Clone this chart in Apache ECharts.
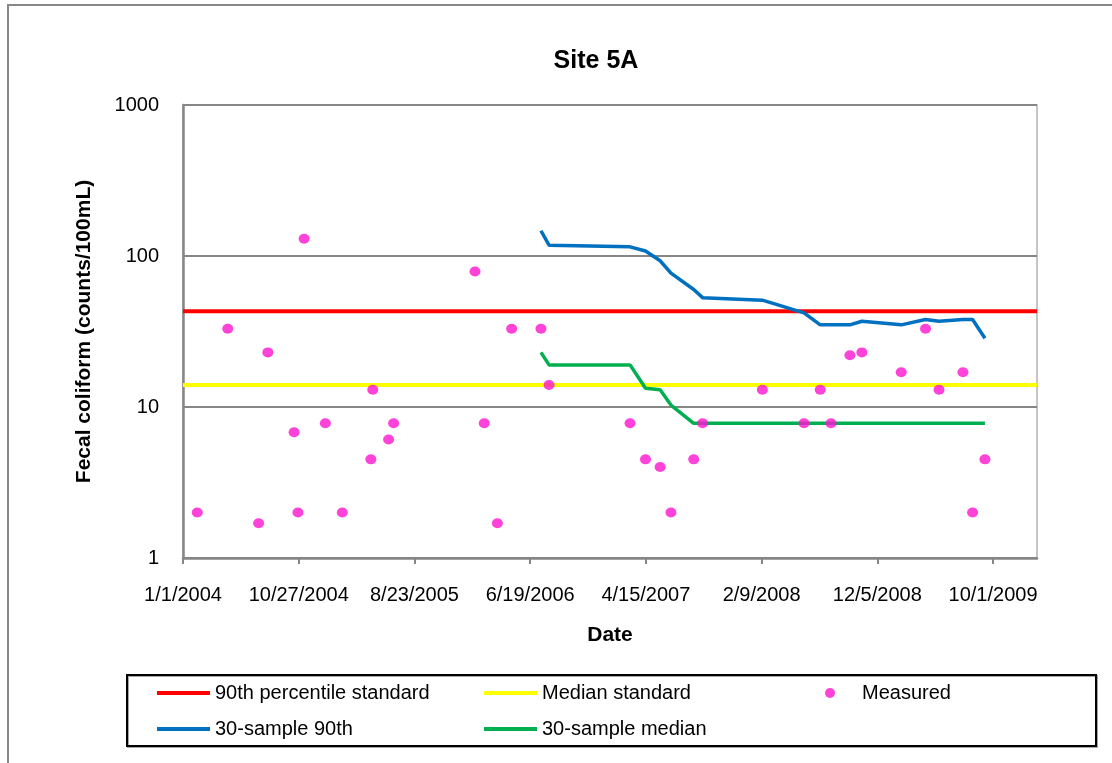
<!DOCTYPE html>
<html>
<head>
<meta charset="utf-8">
<script src="https://cdn.jsdelivr.net/npm/echarts@6/dist/echarts.min.js"></script>
<style>
  html, body { margin: 0; padding: 0; background: #fff; }
  #chart { width: 1112px; height: 763px; }
</style>
</head>
<body>
<div id="chart"></div>
<script>
// Site 5A fecal coliform chart

var FONT = '"Liberation Sans", Arial, sans-serif'

// tick labels on the date axis
var xTickLabels = ['1/1/2004', '10/27/2004', '8/23/2005', '6/19/2006', '4/15/2007', '2/9/2008', '12/5/2008', '10/1/2009']
var yTickLabels = [1, 10, 100, 1000]

// measured samples
var measuredDates = [
  '2004-02-07', '2004-04-26', '2004-07-15', '2004-08-08', '2004-10-15', '2004-10-25', '2004-11-10',
  '2005-01-04', '2005-02-17', '2005-05-02', '2005-05-07', '2005-06-17', '2005-06-30',
  '2006-01-27', '2006-02-20', '2006-03-26', '2006-05-02', '2006-07-17', '2006-08-07',
  '2007-03-05', '2007-04-14', '2007-05-22', '2007-06-19', '2007-08-17', '2007-09-09',
  '2008-02-11', '2008-05-29', '2008-07-10', '2008-08-07', '2008-09-25', '2008-10-26',
  '2009-02-05', '2009-04-09', '2009-05-14', '2009-07-15', '2009-08-09', '2009-09-10'
]
var measuredValues = [
  2, 33, 1.7, 23, 6.8, 2, 130,
  7.8, 2, 4.5, 13, 6.1, 7.8,
  79, 7.8, 1.7, 33, 33, 14,
  7.8, 4.5, 4, 2, 4.5, 7.8,
  13, 7.8, 13, 7.8, 22, 23,
  17, 33, 13, 17, 2, 4.5
]

// rolling 30-sample statistics
var rollingDates = [
  '2006-07-17', '2006-08-07', '2007-03-05', '2007-04-14', '2007-05-22', '2007-06-19',
  '2007-08-17', '2007-09-09', '2008-02-11', '2008-05-29', '2008-07-10', '2008-08-07',
  '2008-09-25', '2008-10-26', '2009-02-05', '2009-04-09', '2009-05-14', '2009-07-15',
  '2009-08-09', '2009-09-10'
]
var rolling90th = [147, 118, 115, 108, 93, 77, 60, 53, 51, 42, 35, 35, 35, 37, 35, 38, 37, 38, 38, 28.5]
var rollingMedian = [23, 19, 19, 13.3, 13, 10.3, 7.8, 7.8, 7.8, 7.8, 7.8, 7.8, 7.8, 7.8, 7.8, 7.8, 7.8, 7.8, 7.8, 7.8]

// standards (flat across the whole period)
var standardDates = ['2004-01-01', '2010-01-23']
var standard90th = [43, 43]
var standardMedian = [14, 14]

var axisStart = '2004-01-01'
var axisEnd = '2010-01-23'

var DAY = 86400000
var ORIGIN = Date.UTC(2004, 0, 1)

// 'YYYY-MM-DD' -> days since 1/1/2004
function isoToDay (s) {
  var p = s.split('-')
  return (Date.UTC(+p[0], +p[1] - 1, +p[2]) - ORIGIN) / DAY
}
// 'M/D/YYYY' -> days since 1/1/2004
function usToDay (s) {
  var p = s.split('/')
  return (Date.UTC(+p[2], +p[0] - 1, +p[1]) - ORIGIN) / DAY
}
function dayToUs (d) {
  var dt = new Date(ORIGIN + Math.round(d) * DAY)
  return (dt.getUTCMonth() + 1) + '/' + dt.getUTCDate() + '/' + dt.getUTCFullYear()
}
function pairs (dates, values) {
  return dates.map(function (d, i) { return [isoToDay(d), values[i]] })
}

var xTicks = xTickLabels.map(usToDay)

var myChart = echarts.init(document.getElementById('chart'))

var legendText = { fontFamily: FONT, fontSize: 20, lineHeight: 22, color: '#000' }

var option = {
  backgroundColor: '#fff',
  animation: false,
  title: {
    text: 'Site 5A',
    left: 591,
    top: 44,
    textAlign: 'center',
    textStyle: { fontFamily: FONT, fontSize: 25, fontWeight: 'bold', color: '#000' }
  },
  graphic: [
    {
      type: 'rect',
      shape: { x: 8, y: 5, width: 1120, height: 780 },
      style: { fill: 'none', stroke: '#888', lineWidth: 2 },
      silent: true
    },
    {
      type: 'rect',
      shape: { x: 127, y: 675, width: 969, height: 71 },
      style: { fill: 'none', stroke: '#000', lineWidth: 2, shadowColor: 'rgba(0,0,0,0.35)', shadowOffsetX: 1, shadowOffsetY: 1 },
      silent: true
    }
  ],
  legend: [
    {
      orient: 'vertical',
      left: 157,
      top: 682,
      padding: 0,
      itemWidth: 53,
      itemHeight: 4,
      itemGap: 14,
      icon: 'rect',
      textStyle: legendText,
      data: ['90th percentile standard', '30-sample 90th']
    },
    {
      orient: 'vertical',
      left: 484,
      top: 682,
      padding: 0,
      itemWidth: 53,
      itemHeight: 4,
      itemGap: 14,
      icon: 'rect',
      textStyle: legendText,
      data: ['Median standard', '30-sample median']
    },
    {
      orient: 'vertical',
      left: 825,
      top: 682,
      padding: 0,
      itemWidth: 10,
      itemHeight: 10,
      textStyle: Object.assign({}, legendText, { padding: [0, 0, 0, 22] }),
      data: [{ name: 'Measured', icon: 'circle' }]
    }
  ],
  grid: {
    left: 183,
    top: 105,
    right: 75,
    bottom: 205,
    show: true,
    borderColor: '#b3b3b3',
    borderWidth: 1.5
  },
  xAxis: {
    type: 'value',
    min: isoToDay(axisStart),
    max: isoToDay(axisEnd),
    name: 'Date',
    nameLocation: 'middle',
    nameGap: 67,
    nameTextStyle: { fontFamily: FONT, fontSize: 21, fontWeight: 'bold', color: '#000' },
    axisLine: { show: true, onZero: false, lineStyle: { color: '#868686', width: 2.5 } },
    axisTick: { show: true, length: 6, customValues: xTicks, lineStyle: { color: '#868686', width: 2 } },
    axisLabel: {
      customValues: xTicks,
      margin: 27,
      fontFamily: FONT,
      fontSize: 20,
      color: '#000',
      formatter: function (v) { return dayToUs(v) }
    },
    splitLine: { show: false }
  },
  yAxis: {
    type: 'log',
    logBase: 10,
    min: yTickLabels[0],
    max: yTickLabels[yTickLabels.length - 1],
    name: 'Fecal coliform (counts/100mL)',
    nameLocation: 'middle',
    nameGap: 88,
    nameTextStyle: { fontFamily: FONT, fontSize: 21, fontWeight: 'bold', color: '#000' },
    axisLine: { show: true, lineStyle: { color: '#868686', width: 2.5 } },
    axisTick: { show: false },
    axisLabel: {
      margin: 24,
      fontFamily: FONT,
      fontSize: 20,
      color: '#000',
      formatter: function (v) { return String(Math.round(v)) }
    },
    splitLine: { show: true, lineStyle: { color: '#868686', width: 2 } }
  },
  series: [
    {
      name: '90th percentile standard',
      type: 'line',
      symbol: 'none',
      lineStyle: { color: '#ff0000', width: 4 },
      itemStyle: { color: '#ff0000' },
      data: pairs(standardDates, standard90th),
      z: 2
    },
    {
      name: 'Median standard',
      type: 'line',
      symbol: 'none',
      lineStyle: { color: '#ffff00', width: 4 },
      itemStyle: { color: '#ffff00' },
      data: pairs(standardDates, standardMedian),
      z: 2
    },
    {
      name: '30-sample 90th',
      type: 'line',
      symbol: 'none',
      lineStyle: { color: '#0070c0', width: 3.5 },
      itemStyle: { color: '#0070c0' },
      data: pairs(rollingDates, rolling90th),
      z: 3
    },
    {
      name: '30-sample median',
      type: 'line',
      symbol: 'none',
      lineStyle: { color: '#00b050', width: 3.5 },
      itemStyle: { color: '#00b050' },
      data: pairs(rollingDates, rollingMedian),
      z: 3
    },
    {
      name: 'Measured',
      type: 'scatter',
      symbol: 'circle',
      symbolSize: [11, 10],
      itemStyle: { color: '#ff14d0' },
      data: pairs(measuredDates, measuredValues),
      z: 4
    }
  ]
}
myChart.setOption(option)
</script>
</body>
</html>
